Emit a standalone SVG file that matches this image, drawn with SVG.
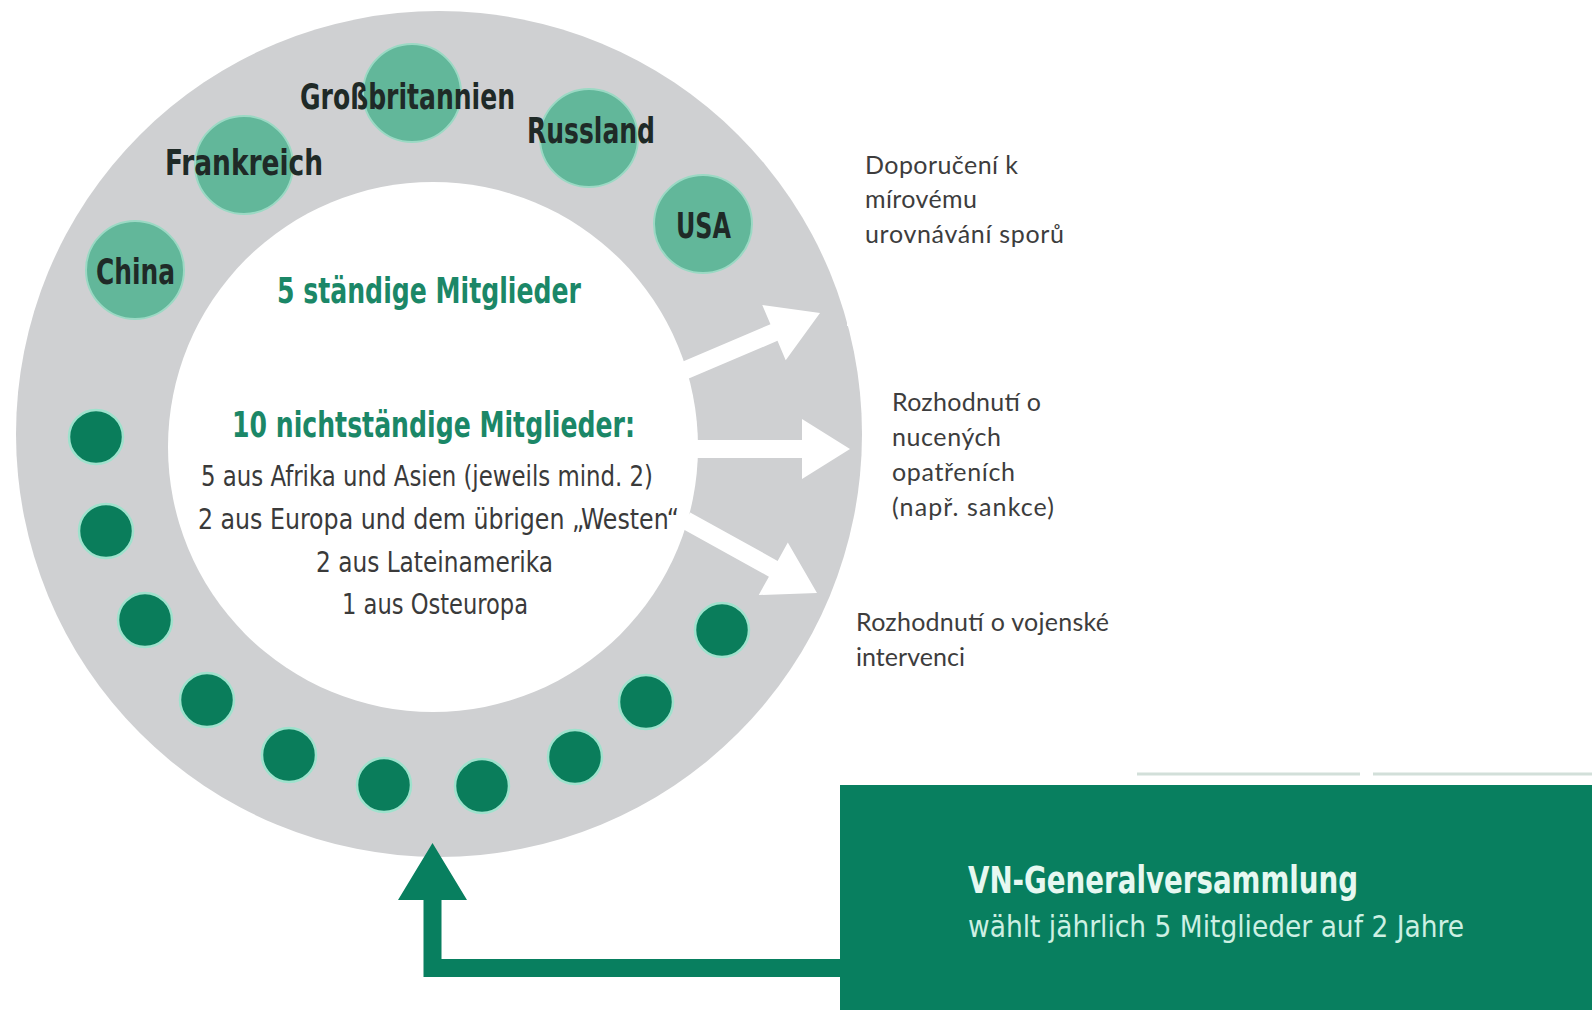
<svg xmlns="http://www.w3.org/2000/svg" width="1592" height="1010" viewBox="0 0 1592 1010">
  <style>
    .cond { font-family: "Liberation Sans Narrow", "DejaVu Sans Condensed", "Roboto", sans-serif; font-stretch: condensed; }
    .country { font-weight: bold; font-size: 36px; fill: #1f2a27; }
    .head { font-weight: bold; font-size: 36px; fill: #1b8767; }
    .body { font-size: 29px; fill: #3a3a3a; }
    .cz { font-family: "Lato", "Noto Sans", "DejaVu Sans", sans-serif; font-size: 25px; fill: #3d3d3d; }
    .perm { fill: #62b79a; stroke: #9bd9c4; stroke-width: 2; }
    .dot { fill: #0a7d5b; stroke: #9fe2cd; stroke-width: 2.5; }
    .wa { fill: #ffffff; }
    .ga { fill: #087f5f; }
    .gbt { font-weight: bold; font-size: 37px; fill: #e6f8f1; }
    .gbs { font-size: 31px; fill: #cdf0e3; }
  </style>
  <defs>
    <polygon id="warrow" points="-170,-9 -50,-9 -50,-30 0,0 -50,30 -50,9 -170,9"/>
  </defs>
  <rect x="0" y="0" width="1592" height="1010" fill="#ffffff"/>

  <g id="ring">
    <circle cx="439" cy="434" r="423" fill="#cfd0d2"/>
    <circle cx="433" cy="447" r="265" fill="#ffffff"/>
    <rect x="847" y="0" width="745" height="326" fill="#ffffff"/>
  </g>

  <g id="connectors">
    <use href="#warrow" class="wa" transform="translate(820,313) rotate(-23)"/>
    <polygon class="wa" points="690,440 802,440 802,419 850,449 802,479 802,458 690,458"/>
    <polygon class="wa" points="-150,-9 -50,-9 -50,-30 0,0 -50,30 -50,9 -150,9" transform="translate(817,593) rotate(29)"/>
    <polygon class="ga" points="841,959 441.5,959 441.5,900 467,900 432.5,843 398,900 423.5,900 423.5,977 841,977"/>
  </g>

  <g id="china">
    <circle class="perm" cx="135" cy="270" r="49"/>
    <text class="cond country" x="96" y="284" textLength="79" lengthAdjust="spacingAndGlyphs">China</text>
  </g>
  <g id="frankreich">
    <circle class="perm" cx="244" cy="165" r="49"/>
    <text class="cond country" x="165" y="175" textLength="158" lengthAdjust="spacingAndGlyphs">Frankreich</text>
  </g>
  <g id="grossbritannien">
    <circle class="perm" cx="412" cy="93" r="49"/>
    <text class="cond country" x="300" y="109" textLength="215" lengthAdjust="spacingAndGlyphs">Großbritannien</text>
  </g>
  <g id="russland">
    <circle class="perm" cx="589" cy="138" r="49"/>
    <text class="cond country" x="527" y="143" textLength="128" lengthAdjust="spacingAndGlyphs">Russland</text>
  </g>
  <g id="usa">
    <circle class="perm" cx="703" cy="224" r="49"/>
    <text class="cond country" x="676" y="238" textLength="55" lengthAdjust="spacingAndGlyphs">USA</text>
  </g>

  <g id="nonpermanent-seats">
    <circle class="dot" cx="96" cy="437" r="27"/>
    <circle class="dot" cx="106" cy="531" r="27"/>
    <circle class="dot" cx="145" cy="620" r="27"/>
    <circle class="dot" cx="207" cy="700" r="27"/>
    <circle class="dot" cx="289" cy="755" r="27"/>
    <circle class="dot" cx="384" cy="785" r="27"/>
    <circle class="dot" cx="482" cy="786" r="27"/>
    <circle class="dot" cx="575" cy="757" r="27"/>
    <circle class="dot" cx="646" cy="702" r="27"/>
    <circle class="dot" cx="722" cy="630" r="27"/>
  </g>

  <g id="council-text">
    <text class="cond head" x="277" y="303" textLength="304" lengthAdjust="spacingAndGlyphs">5 ständige Mitglieder</text>
    <text class="cond head" x="232" y="437" textLength="403" lengthAdjust="spacingAndGlyphs">10 nichtständige Mitglieder:</text>
    <text class="cond body" x="201" y="486" textLength="452" lengthAdjust="spacingAndGlyphs">5 aus Afrika und Asien (jeweils mind. 2)</text>
    <text class="cond body" x="198" y="529" textLength="481" lengthAdjust="spacingAndGlyphs">2 aus Europa und dem übrigen „Westen“</text>
    <text class="cond body" x="316" y="572" textLength="237" lengthAdjust="spacingAndGlyphs">2 aus Lateinamerika</text>
    <text class="cond body" x="342" y="614" textLength="186" lengthAdjust="spacingAndGlyphs">1 aus Osteuropa</text>
  </g>

  <g id="out-recommendation">
    <text class="cz" x="865" y="174" textLength="153">Doporučení k</text>
    <text class="cz" x="865" y="208" textLength="112">mírovému</text>
    <text class="cz" x="865" y="243" textLength="199">urovnávání sporů</text>
  </g>
  <g id="out-sanctions">
    <text class="cz" x="892" y="411" textLength="149">Rozhodnutí o</text>
    <text class="cz" x="892" y="446" textLength="109">nucených</text>
    <text class="cz" x="892" y="481" textLength="123">opatřeních</text>
    <text class="cz" x="892" y="516" textLength="162">(např. sankce)</text>
  </g>
  <g id="out-intervention">
    <text class="cz" x="856" y="631" textLength="253">Rozhodnutí o vojenské</text>
    <text class="cz" x="856" y="666" textLength="109">intervenci</text>
  </g>

  <g id="general-assembly">
    <line x1="1137" y1="774" x2="1360" y2="774" stroke="#d2dfd9" stroke-width="3"/>
    <line x1="1373" y1="774" x2="1592" y2="774" stroke="#d2dfd9" stroke-width="3"/>
    <rect x="840" y="785" width="752" height="225" fill="#087f5f"/>
    <text class="cond gbt" x="968" y="893" textLength="390" lengthAdjust="spacingAndGlyphs">VN-Generalversammlung</text>
    <text class="cond gbs" x="968" y="937" textLength="496" lengthAdjust="spacingAndGlyphs">wählt jährlich 5 Mitglieder auf 2 Jahre</text>
  </g>
</svg>
